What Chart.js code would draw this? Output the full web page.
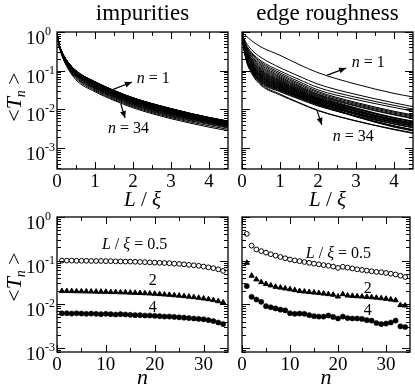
<!DOCTYPE html>
<html><head><meta charset="utf-8">
<script src="https://cdn.jsdelivr.net/npm/chart.js@4.4.1/dist/chart.umd.min.js"></script>
<style>
html,body{margin:0;padding:0;background:#fff;}
body{width:415px;height:386px;position:relative;overflow:hidden;}
canvas{position:absolute;left:0;top:0;}
</style></head><body>
<canvas id="tl" width="415" height="386"></canvas>
<canvas id="tr" width="415" height="386"></canvas>
<canvas id="bl" width="415" height="386"></canvas>
<canvas id="br" width="415" height="386"></canvas>
<script>
// ---------------- DATA ----------------
const L_GRID = [0, 0.02, 0.1, 0.25, 0.5, 1, 1.5, 2, 3, 4, 4.5];
const N_VALUES = [1,2,3,4,5,6,7,8,9,10,11,12,13,14,15,16,17,18,19,20,21,22,23,24,25,26,27,28,29,30,31,32,33,34];

// <T_n>(L/xi) for n = 1..34, impurities (values at L_GRID)
const IMP_CURVES = [
[1,.70,.360,.190,.100,.0520,.0310,.0200,.0105,.0062,.0050],
[1,.70,.360,.190,.100,.0520,.0310,.0200,.0105,.0062,.0050],
[1,.70,.359,.189,.100,.0517,.0308,.0199,.01045,.0061,.00492],
[1,.70,.359,.189,.099,.0515,.0307,.0198,.0104,.0062,.0050],
[1,.70,.358,.188,.099,.0512,.0305,.0197,.01034,.0061,.00492],
[1,.70,.358,.188,.099,.0510,.0304,.0196,.0103,.0060,.00484],
[1,.70,.357,.187,.098,.0507,.0302,.0195,.01024,.0061,.00492],
[1,.70,.357,.187,.098,.0504,.0301,.0194,.01019,.0060,.00484],
[1,.70,.356,.186,.098,.0502,.0299,.0193,.01013,.0059,.00476],
[1,.70,.356,.185,.097,.0499,.0298,.0192,.01008,.0060,.00484],
[1,.70,.355,.184,.097,.0494,.0295,.0190,.00998,.0059,.00476],
[1,.70,.354,.183,.096,.0491,.0293,.0189,.00992,.0058,.00468],
[1,.69,.353,.182,.096,.0486,.0290,.0187,.00982,.0059,.00476],
[1,.69,.352,.181,.095,.0484,.0288,.0186,.00977,.0058,.00468],
[1,.69,.351,.180,.095,.0478,.0285,.0184,.00966,.0057,.00460],
[1,.69,.350,.179,.094,.0473,.0282,.0182,.00956,.0056,.00452],
[1,.69,.349,.178,.093,.0468,.0279,.0180,.00945,.0056,.00452],
[1,.69,.348,.176,.092,.0463,.0276,.0178,.00935,.0055,.00444],
[1,.69,.347,.175,.091,.0458,.0273,.0176,.00924,.0055,.00444],
[1,.69,.345,.174,.090,.0450,.0268,.0173,.00908,.0054,.00435],
[1,.69,.342,.172,.089,.0442,.0264,.0170,.00893,.0053,.00427],
[1,.69,.340,.171,.088,.0434,.0259,.0167,.00877,.0052,.00419],
[1,.68,.338,.169,.087,.0426,.0254,.0164,.00861,.0052,.00419],
[1,.68,.336,.166,.085,.0416,.0248,.0160,.0084,.0051,.00411],
[1,.68,.334,.164,.084,.0408,.0243,.0157,.00824,.0050,.00403],
[1,.68,.331,.162,.082,.0398,.0237,.0153,.00803,.0049,.00395],
[1,.68,.329,.159,.080,.0387,.0231,.0149,.00782,.0048,.00387],
[1,.68,.326,.157,.078,.0377,.0225,.0145,.00761,.0047,.00379],
[1,.68,.323,.153,.076,.0364,.0217,.0140,.00735,.0046,.00371],
[1,.67,.319,.150,.073,.0351,.0209,.0135,.00709,.0045,.00363],
[1,.67,.316,.147,.070,.0338,.0202,.0130,.00683,.0043,.00347],
[1,.67,.311,.143,.067,.0322,.0192,.0124,.00651,.0041,.00331],
[1,.67,.306,.138,.063,.0304,.0181,.0117,.00614,.0038,.00306],
[1,.66,.301,.133,.058,.0286,.0171,.0110,.00578,.0035,.00282]
];

// <T_n>(L/xi) for n = 1..34, edge roughness (values at L_GRID)
const EDGE_CURVES = [
[1,.95,.80,.60,.41,.25,.145,.089,.045,.026,.021],
[1,.84,.55,.35,.22,.120,.0724,.045,.0244,.0148,.0118],
[1,.81,.49,.30,.18,.0986,.0594,.037,.0206,.0128,.0102],
[1,.79,.46,.28,.165,.0883,.0524,.032,.0180,.0113,.0090],
[1,.78,.44,.26,.152,.0809,.0476,.029,.0152,.0090,.0072],
[1,.77,.42,.24,.140,.0748,.0442,.027,.0143,.0085,.0068],
[1,.75,.40,.23,.130,.0695,.0410,.025,.0134,.0080,.0064],
[1,.74,.38,.21,.121,.0655,.0390,.024,.0126,.0075,.0060],
[1,.73,.37,.20,.113,.0617,.0371,.023,.0121,.0072,.0058],
[1,.72,.36,.19,.106,.0582,.0352,.022,.0110,.0062,.0050],
[1,.72,.35,.18,.101,.0556,.0336,.021,.0105,.0060,.0048],
[1,.71,.34,.18,.097,.0532,.0321,.020,.0104,.0061,.0049],
[1,.71,.33,.17,.093,.0513,.0311,.0195,.0102,.0060,.0048],
[1,.70,.32,.16,.089,.0494,.0302,.019,.0097,.0056,.0045],
[1,.69,.31,.157,.085,.0475,.0292,.0185,.0093,.0053,.0042],
[1,.69,.30,.153,.082,.0461,.0284,.018,.0091,.0052,.0042],
[1,.68,.30,.148,.079,.0446,.0275,.0175,.0090,.0052,.0042],
[1,.68,.29,.143,.076,.0431,.0266,.017,.0091,.0055,.0044],
[1,.67,.28,.139,.073,.0415,.0258,.0165,.0087,.0051,.0041],
[1,.66,.27,.130,.068,.0383,.0236,.0150,.0079,.0047,.0038],
[1,.67,.28,.137,.072,.0416,.0262,.0170,.0089,.0052,.0042],
[1,.67,.27,.132,.069,.0394,.0246,.0158,.0082,.0048,.0038],
[1,.66,.27,.127,.066,.0381,.0239,.0155,.0080,.0047,.0038],
[1,.65,.26,.122,.063,.0367,.0233,.0152,.0080,.0047,.0038],
[1,.65,.26,.119,.061,.0358,.0229,.0150,.0078,.0046,.0037],
[1,.64,.25,.116,.059,.0348,.0223,.0147,.0075,.0043,.0034],
[1,.64,.245,.112,.057,.0338,.0217,.0144,.0073,.0042,.0034],
[1,.64,.24,.109,.055,.0327,.0212,.0141,.0067,.0037,.0030],
[1,.63,.237,.107,.054,.0321,.0207,.0137,.0065,.0035,.0028],
[1,.63,.232,.104,.052,.0310,.0200,.0133,.0065,.0036,.0029],
[1,.62,.226,.100,.050,.0298,.0193,.0128,.0066,.0038,.0030],
[1,.62,.221,.097,.048,.0286,.0185,.0123,.0068,.0042,.0034],
[1,.61,.213,.092,.045,.0249,.0151,.0095,.0051,.0031,.0025],
[1,.60,.203,.086,.042,.0237,.0146,.0093,.0050,.0030,.0024]
];

// <T_n> vs n at fixed L/xi, impurities
const IMP_L05 = [0.100,0.100,0.100,0.099,0.099,0.099,0.098,0.098,0.098,0.097,0.097,0.096,0.096,0.095,0.095,0.094,0.093,0.092,0.091,0.090,0.089,0.088,0.087,0.085,0.084,0.082,0.080,0.078,0.076,0.073,0.070,0.067,0.063,0.058];
const IMP_L2  = [0.0200,0.0200,0.0199,0.0198,0.0197,0.0196,0.0195,0.0194,0.0193,0.0192,0.0190,0.0189,0.0187,0.0186,0.0184,0.0182,0.0180,0.0178,0.0176,0.0173,0.0170,0.0167,0.0164,0.0160,0.0157,0.0153,0.0149,0.0145,0.0140,0.0135,0.0130,0.0124,0.0117,0.0110];
const IMP_L4  = [0.0062,0.0062,0.0061,0.0062,0.0061,0.0060,0.0061,0.0060,0.0059,0.0060,0.0059,0.0058,0.0059,0.0058,0.0057,0.0056,0.0056,0.0055,0.0055,0.0054,0.0053,0.0052,0.0052,0.0051,0.0050,0.0049,0.0048,0.0047,0.0046,0.0045,0.0043,0.0041,0.0038,0.0035];
// <T_n> vs n at fixed L/xi, edge roughness
const EDGE_L05 = [0.41,0.22,0.18,0.165,0.152,0.140,0.130,0.121,0.113,0.106,0.101,0.097,0.093,0.089,0.085,0.082,0.079,0.076,0.073,0.068,0.072,0.069,0.066,0.063,0.061,0.059,0.057,0.055,0.054,0.052,0.050,0.048,0.045,0.042];
const EDGE_L2  = [0.089,0.045,0.037,0.032,0.029,0.027,0.025,0.024,0.023,0.022,0.021,0.020,0.0195,0.019,0.0185,0.018,0.0175,0.017,0.0165,0.0150,0.0170,0.0158,0.0155,0.0152,0.0150,0.0147,0.0144,0.0141,0.0137,0.0133,0.0128,0.0123,0.0095,0.0093];
const EDGE_L4  = [0.026,0.0148,0.0128,0.0113,0.0090,0.0085,0.0080,0.0075,0.0072,0.0062,0.0060,0.0061,0.0060,0.0056,0.0053,0.0052,0.0052,0.0055,0.0051,0.0047,0.0052,0.0048,0.0047,0.0047,0.0046,0.0043,0.0042,0.0037,0.0035,0.0036,0.0038,0.0042,0.0031,0.0030];

// ticks and labels
const X_TICKS_L = [0,1,2,3,4];
const X_MINOR_L = [0.5,1.5,2.5,3.5,4.5];
const X_TICKS_N = [0,10,20,30];
const X_MINOR_N = [5,15,25,35];
const Y_DECADES = [1,0.1,0.01,0.001];
const Y_EXPONENTS = ['0','-1','-2','-3'];
const Y_MINOR_MULT = [2,3,4,5,6,7,8,9];
const PANEL_TITLES = ['impurities','edge roughness'];

// ---------------- LAYOUT ----------------
const W = 415, H = 386;
const BOX = {
  tl:{l:57,r:228,t:32,b:169}, tr:{l:242,r:413,t:32,b:169},
  bl:{l:57,r:228,t:217,b:352}, br:{l:242,r:413,t:217,b:352}
};
const FONT = '"Liberation Serif","Times New Roman",serif';

function fontOf(s){ return (s.i?'italic ':'') + s.s + 'px ' + FONT; }
function rich(ctx, segs, x, y, align){
  let w = 0;
  segs.forEach(s=>{ ctx.font = fontOf(s); s.w = ctx.measureText(s.t).width; w += s.w; });
  let cx = align==='center' ? x - w/2 : (align==='right' ? x - w : x);
  ctx.textAlign = 'left'; ctx.textBaseline = 'alphabetic';
  segs.forEach(s=>{ ctx.font = fontOf(s); ctx.fillText(s.t, cx, y + (s.dy||0)); cx += s.w; });
}
function arrow(ctx, x1, y1, x2, y2){
  ctx.lineWidth = 1.2;
  ctx.beginPath(); ctx.moveTo(x1,y1); ctx.lineTo(x2,y2); ctx.stroke();
  const a = Math.atan2(y2-y1, x2-x1), len = 7, w = 3;
  ctx.beginPath();
  ctx.moveTo(x2, y2);
  ctx.lineTo(x2 - len*Math.cos(a) + w*Math.sin(a), y2 - len*Math.sin(a) - w*Math.cos(a));
  ctx.lineTo(x2 - len*Math.cos(a) - w*Math.sin(a), y2 - len*Math.sin(a) + w*Math.cos(a));
  ctx.closePath(); ctx.fill();
}

function framePlugin(cfg){
  return {
    id: 'frame_' + cfg.id,
    afterDraw(chart){
      const ctx = chart.ctx, a = chart.chartArea, xs = chart.scales.x, ys = chart.scales.y;
      ctx.save();
      ctx.fillStyle = '#000'; ctx.strokeStyle = '#000'; ctx.lineWidth = 1;
      const seg = (x1,y1,x2,y2)=>{ ctx.beginPath(); ctx.moveTo(x1,y1); ctx.lineTo(x2,y2); ctx.stroke(); };
      const xt = (v,len)=>{ const p = Math.round(xs.getPixelForValue(v)) + 0.5;
        seg(p, a.bottom, p, a.bottom - len); seg(p, a.top, p, a.top + len); };
      const yt = (v,len)=>{ const p = Math.round(ys.getPixelForValue(v)) + 0.5;
        seg(a.left, p, a.left + len, p); seg(a.right, p, a.right - len, p); };
      cfg.xMajor.forEach(v=>xt(v, 7));
      cfg.xMinor.forEach(v=>{ if (v < xs.max) xt(v, 4); });
      Y_DECADES.forEach(d=>{
        Y_MINOR_MULT.forEach(m=>{ const v = m*d/10; if (v >= ys.min && v <= ys.max) yt(v, 4); });
        yt(d, 8);
      });
      ctx.lineWidth = 1.3;
      ctx.strokeRect(a.left, a.top, a.right - a.left, a.bottom - a.top);

      // x tick labels
      ctx.font = '19px ' + FONT; ctx.textAlign = 'center'; ctx.textBaseline = 'alphabetic';
      cfg.xMajor.forEach(v=>{ ctx.fillText(String(v), xs.getPixelForValue(v), a.bottom + 18); });
      // y tick labels
      if (cfg.yLabels){
        Y_DECADES.forEach((d,i)=>{
          const p = ys.getPixelForValue(d);
          ctx.font = '19px ' + FONT; ctx.textAlign = 'right';
          ctx.fillText('10', a.left - 12, p + 12);
          ctx.font = '12px ' + FONT; ctx.textAlign = 'left';
          ctx.fillText(Y_EXPONENTS[i], a.left - 12, p + 3);
        });
        ctx.save();
        ctx.translate(21, cfg.yTitleY);
        ctx.rotate(-Math.PI/2);
        rich(ctx, [{t:'<',s:22},{t:'T',i:1,s:22},{t:'n',i:1,s:14,dy:4},{t:' >',s:22}], 0, 0, 'center');
        ctx.restore();
      }
      // titles
      const cx = (a.left + a.right)/2;
      if (cfg.title){ ctx.font = '23px ' + FONT; ctx.textAlign = 'center'; ctx.fillText(cfg.title, cx, 20); }
      if (cfg.xTitle === 'L') rich(ctx, [{t:'L',i:1,s:21},{t:' / ',s:21},{t:'ξ',i:1,s:21}], cx, 206, 'center');
      else rich(ctx, [{t:'n',i:1,s:22}], cx, 384, 'center');
      // annotations
      (cfg.notes||[]).forEach(nt=>{
        rich(ctx, nt.segs.map(s=>Object.assign({s:16}, s)), xs.getPixelForValue(nt.x), ys.getPixelForValue(nt.y), nt.align||'left');
      });
      (cfg.arrows||[]).forEach(ar=>{
        arrow(ctx, xs.getPixelForValue(ar[0]), ys.getPixelForValue(ar[1]), xs.getPixelForValue(ar[2]), ys.getPixelForValue(ar[3]));
      });
      ctx.restore();
    }
  };
}

function makePanel(id, type, datasets, xmax, ymin, cfg){
  const b = BOX[id];
  return new Chart(document.getElementById(id), {
    type: type,
    data: { datasets: datasets },
    options: {
      responsive: false, animation: false, devicePixelRatio: 1, events: [],
      layout: { padding: { left: b.l, right: W - b.r, top: b.t, bottom: H - b.b } },
      plugins: { legend: { display: false }, tooltip: { enabled: false }, title: { display: false } },
      scales: {
        x: { type: 'linear', min: 0, max: xmax, display: false },
        y: { type: 'logarithmic', min: ymin, max: 1, display: false }
      }
    },
    plugins: [framePlugin(Object.assign({id: id}, cfg))]
  });
}

function curveSets(rows){
  return rows.map(row => ({
    data: row.map((v,k) => ({x: L_GRID[k], y: v})),
    borderColor: '#000', borderWidth: 1, pointRadius: 0,
    cubicInterpolationMode: 'monotone', fill: false
  }));
}
function markerSets(s05, s2, s4){
  const pts = arr => N_VALUES.map((n,i) => ({x: n, y: arr[i]}));
  return [
    { data: pts(s05), pointStyle: 'circle', pointRadius: 2.4, pointBorderWidth: 1, pointBorderColor: '#000', pointBackgroundColor: '#fff', showLine: false },
    { data: pts(s2), pointStyle: 'triangle', pointRadius: 3, pointBorderWidth: 1, pointBorderColor: '#000', pointBackgroundColor: '#000', showLine: false },
    { data: pts(s4), pointStyle: 'circle', pointRadius: 2.6, pointBorderWidth: 0.5, pointBorderColor: '#000', pointBackgroundColor: '#000', showLine: false }
  ];
}

const N1 = [{t:'n',i:1},{t:' = 1'}];
const N34 = [{t:'n',i:1},{t:' = 34'}];
const LXI = [{t:'L',i:1},{t:' / '},{t:'ξ',i:1},{t:' = 0.5'}];

makePanel('tl', 'line', curveSets(IMP_CURVES), 4.5, 2.9e-4, {
  xMajor: X_TICKS_L, xMinor: X_MINOR_L, yLabels: true, yTitleY: 97, title: PANEL_TITLES[0], xTitle: 'L',
  notes: [{segs: N1, x: 2.1, y: 0.048}, {segs: N34, x: 1.34, y: 0.0025}],
  arrows: [[1.45, 0.032, 1.97, 0.051], [1.68, 0.0138, 1.79, 0.006]]
});
makePanel('tr', 'line', curveSets(EDGE_CURVES), 4.5, 2.9e-4, {
  xMajor: X_TICKS_L, xMinor: X_MINOR_L, yLabels: false, title: PANEL_TITLES[1], xTitle: 'L',
  notes: [{segs: N1, x: 2.89, y: 0.124}, {segs: N34, x: 2.39, y: 0.0015}],
  arrows: [[2.24, 0.077, 2.74, 0.117], [1.97, 0.0096, 2.10, 0.0040]]
});
makePanel('bl', 'scatter', markerSets(IMP_L05, IMP_L2, IMP_L4), 35, 8e-4, {
  xMajor: X_TICKS_N, xMinor: X_MINOR_N, yLabels: true, yTitleY: 277, xTitle: 'n',
  notes: [{segs: LXI, x: 9.2, y: 0.18}, {segs: [{t:'2'}], x: 19.6, y: 0.0276, align: 'center'}, {segs: [{t:'4'}], x: 19.6, y: 0.0066, align: 'center'}]
});
makePanel('br', 'scatter', markerSets(EDGE_L05, EDGE_L2, EDGE_L4), 35, 8e-4, {
  xMajor: X_TICKS_N, xMinor: X_MINOR_N, yLabels: false, xTitle: 'n',
  notes: [{segs: LXI, x: 13.3, y: 0.117}, {segs: [{t:'2'}], x: 26.2, y: 0.018, align: 'center'}, {segs: [{t:'4'}], x: 26.2, y: 0.0056, align: 'center'}]
});
</script>
</body></html>
